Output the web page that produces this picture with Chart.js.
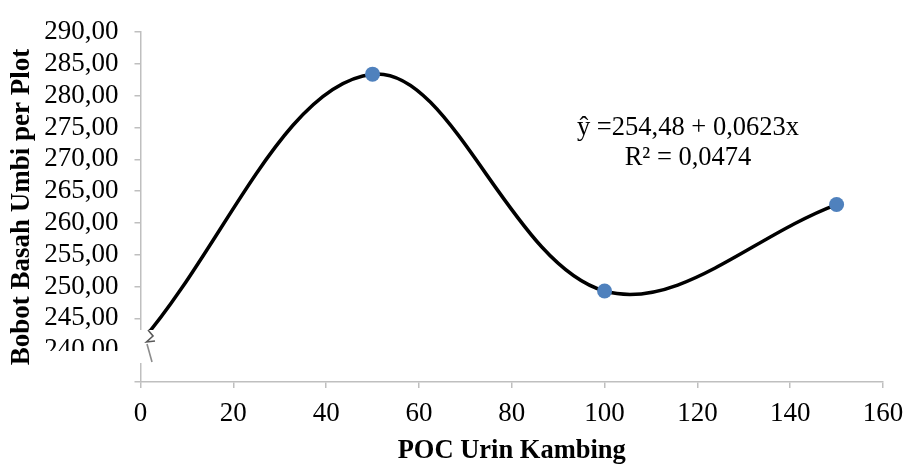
<!DOCTYPE html>
<html>
<head>
<meta charset="utf-8">
<script src="https://cdn.jsdelivr.net/npm/chart.js@4"></script>
<style>
  body { margin: 0; background: #fff; }
  #wrap { width: 907px; height: 467px; }
</style>
</head>
<body>
<div id="wrap"><canvas id="chartz" width="907" height="467"></canvas></div>
<script>
// data
var dosis = [0, 50, 100, 150];
var bobot = [241.2, 283.4, 249.3, 262.9];
var xTicks = [0, 20, 40, 60, 80, 100, 120, 140, 160];
var yTicks = [235, 240, 245, 250, 255, 260, 265, 270, 275, 280, 285, 290];
var persamaan = ['ŷ =254,48 + 0,0623x', 'R² = 0,0474'];

var serif = '"Liberation Serif", "Times New Roman", serif';
var grey = '#bfbfbf';

var points = dosis.map(function (d, i) { return { x: d, y: bobot[i] }; });

// white patch + zigzag for the broken axis, then the regression text
var extras = {
    id: 'extras',
    afterDraw: function (chart) {
        var ctx = chart.ctx;
        ctx.save();
        ctx.fillStyle = '#fff';
        ctx.fillRect(38, 351, 122, 12);
        ctx.fillRect(133, 330, 27, 29);
        ctx.strokeStyle = '#595959';
        ctx.lineWidth = 1.6;
        ctx.beginPath();
        ctx.moveTo(148, 330);
        ctx.lineTo(153, 336);
        ctx.lineTo(146.5, 342);
        ctx.lineTo(155, 341);
        ctx.stroke();
        ctx.strokeStyle = '#8c8c8c';
        ctx.beginPath();
        ctx.moveTo(147, 344);
        ctx.lineTo(152, 362);
        ctx.stroke();

        ctx.fillStyle = '#000';
        ctx.font = '26.5px ' + serif;
        ctx.textAlign = 'center';
        ctx.textBaseline = 'middle';
        ctx.fillText(persamaan[0], 688, 128);
        ctx.fillText(persamaan[1], 688, 158);
        ctx.restore();
    }
};

var chart = {
    type: 'line',
    data: {
        datasets: [{
            data: points,
            borderColor: '#000',
            borderWidth: 3.5,
            tension: 0.36,
            pointRadius: [0, 7.5, 7.5, 7.5],
            pointBackgroundColor: '#4f81bd',
            pointBorderColor: '#4f81bd',
            pointBorderWidth: 0
        }]
    },
    options: {
        responsive: false,
        animation: false,
        events: [],
        layout: { padding: { top: 25, right: 24, left: 0, bottom: 0 } },
        plugins: { legend: { display: false }, tooltip: { enabled: false } },
        scales: {
            x: {
                type: 'linear',
                min: 0,
                max: 160,
                afterBuildTicks: function (s) { s.ticks = xTicks.map(function (v) { return { value: v }; }); },
                afterFit: function (s) { s.height = 85; s.paddingRight = 0; s.paddingLeft = 0; },
                border: { color: grey, width: 1.5 },
                grid: { drawOnChartArea: false, color: grey, tickLength: 6, lineWidth: 1.5 },
                ticks: {
                    color: '#000',
                    padding: 10,
                    maxRotation: 0,
                    autoSkip: false,
                    font: { family: serif, size: 27 }
                },
                title: {
                    display: true,
                    text: 'POC Urin Kambing',
                    color: '#000',
                    padding: { top: 1, bottom: 0 },
                    font: { family: serif, size: 26.5, weight: 'bold' }
                }
            },
            y: {
                min: 235,
                max: 290,
                afterBuildTicks: function (s) { s.ticks = yTicks.map(function (v) { return { value: v }; }); },
                afterFit: function (s) { s.width = 140.5; },
                border: { color: grey, width: 1.5 },
                grid: { drawOnChartArea: false, color: grey, tickLength: 6, lineWidth: 1.5 },
                ticks: {
                    color: '#000',
                    padding: 16,
                    autoSkip: false,
                    font: { family: serif, size: 27 },
                    callback: function (v) { return v === 235 ? '' : v.toFixed(2).replace('.', ','); }
                },
                title: {
                    display: true,
                    text: 'Bobot Basah Umbi per Plot',
                    color: '#000',
                    padding: { top: 6, bottom: 0 },
                    font: { family: serif, size: 27, weight: 'bold' }
                }
            }
        }
    },
    plugins: [extras]
};

var statChart = new Chart(document.getElementById('chartz').getContext('2d'), chart);
</script>
</body>
</html>
